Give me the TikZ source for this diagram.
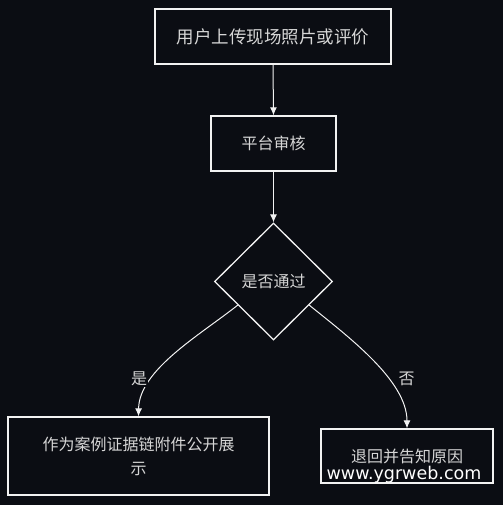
\documentclass[tikz,border=0pt]{standalone}
\usepackage{fontspec}
\setmainfont{Noto Sans CJK SC}
\newfontfamily\wmfont{DejaVu Sans}
\usetikzlibrary{shapes.geometric,arrows.meta,calc}
\newlength{\du}
\setlength{\du}{1pt}
\definecolor{bgcolor}{RGB}{11,13,19}
\definecolor{boxline}{RGB}{242,242,242}
\definecolor{boxtext}{RGB}{214,214,214}
\tikzset{
  stepbox/.style={draw=boxline, line width=1.3pt, fill=bgcolor, text=boxtext,
    inner sep=0pt, align=center, font=\fontsize{16}{24}\selectfont},
  decision/.style={diamond, draw=boxline, line width=1.3pt, fill=bgcolor,
    text=boxtext, inner sep=0pt, minimum width=118\du, minimum height=117\du,
    font=\fontsize{16}{24}\selectfont},
  flowarrow/.style={draw=boxline, line width=1pt, -{Latex[length=8pt,width=7pt]}},
  branchlabel/.style={fill=bgcolor, text=boxtext, inner sep=1pt,
    font=\fontsize{16}{20}\selectfont}
}

\begin{document}
\begin{tikzpicture}
\pgftransformyscale{-1.000000}
\fill[bgcolor] (0\du,0\du) rectangle (503\du,505\du);
\useasboundingbox (0\du,0\du) rectangle (503\du,505\du);
% steps
\node[stepbox, minimum width=236\du, minimum height=55\du, font=\fontsize{17.5}{21}\selectfont] (upload) at (273\du,36.5\du){用户上传现场照片或评价};
\node[stepbox, minimum width=125\du, minimum height=55\du] (audit) at (273.5\du,143.5\du){平台审核};
\node[decision] (passcheck) at (273.5\du,281.5\du){是否通过};
\node[stepbox, minimum width=261\du, minimum height=78\du] (caseshow) at (138.5\du,456\du){作为案例证据链附件公开展\\示};
\node[stepbox, minimum width=172\du, minimum height=54\du] (reject) at (407\du,456\du){退回并告知原因};
% connectors
\draw[flowarrow] (upload.south) -- (audit.north);
\draw[flowarrow] (audit.south) -- (passcheck.north);
\coordinate (yesstart) at ($(passcheck.west)!0.4!(passcheck.south)$);
\coordinate (nostart) at ($(passcheck.east)!0.4!(passcheck.south)$);
\draw[flowarrow] (yesstart) .. controls (200\du,335\du) and (139\du,370\du) .. (caseshow.north);
\draw[flowarrow] (nostart) .. controls (346\du,335\du) and (407\du,380\du) .. (reject.north);
\node[branchlabel] (yeslabel) at (139\du,379\du){是};
\node[branchlabel] (nolabel) at (406.5\du,379\du){否};
% watermark
\node[text=white, inner sep=0pt, font=\wmfont\fontsize{17.5}{20}\selectfont] (watermark) at (404\du,475\du){www.ygrweb.com};
\end{tikzpicture}
\end{document}
